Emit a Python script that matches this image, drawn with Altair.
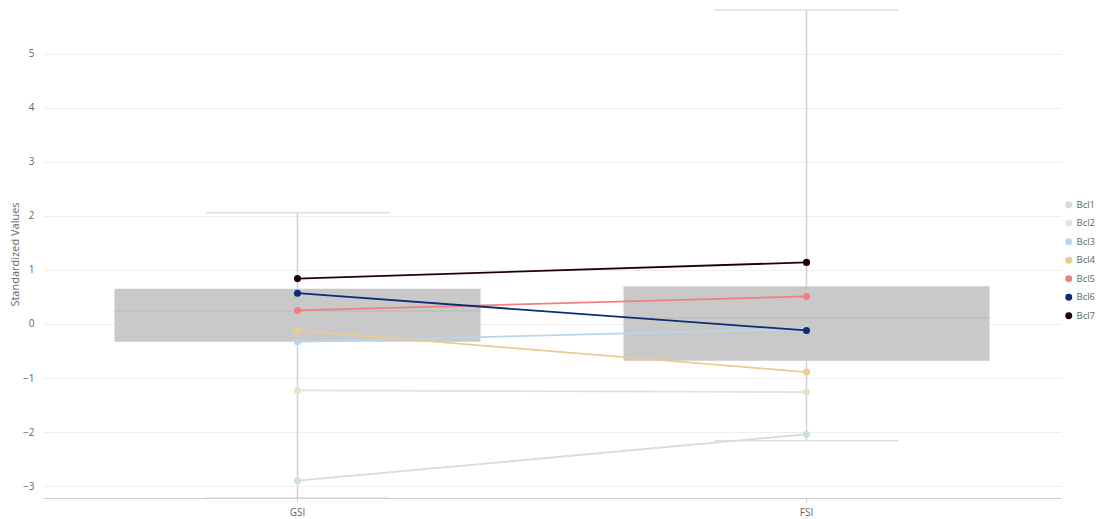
import altair as alt
import pandas as pd

categories = ["GSI", "FSI"]
series = ["Bcl1", "Bcl2", "Bcl3", "Bcl4", "Bcl5", "Bcl6", "Bcl7"]
colors = ["#cfe2cf", "#e6e2cf", "#bcd5eb", "#ecca92", "#f08080", "#0a2d74", "#200008"]
gsi_vals = [-2.90, -1.23, -0.33, -0.12, 0.25, 0.57, 0.84]
fsi_vals = [-2.04, -1.26, -0.09, -0.89, 0.51, -0.12, 1.14]

box_lower = [-3.22, -2.16]
box_q1 = [-0.33, -0.68]
box_median = [0.24, 0.11]
box_q3 = [0.65, 0.70]
box_upper = [2.06, 5.81]

y_domain = [-3.22, 5.81]

rows = []
for s, g, f in zip(series, gsi_vals, fsi_vals):
    rows.append({"cat": "GSI", "series": s, "value": g})
    rows.append({"cat": "FSI", "series": s, "value": f})
pts = pd.DataFrame(rows)

box = pd.DataFrame({
    "cat": categories,
    "lower": box_lower,
    "q1": box_q1,
    "median": box_median,
    "q3": box_q3,
    "upper": box_upper,
})

FONT = "Open Sans"
xscale = alt.Scale(domain=categories, paddingInner=0, paddingOuter=0)
yscale = alt.Scale(domain=y_domain, nice=False, zero=False)

xenc = alt.X("cat:N", scale=xscale, sort=categories, title=None,
             axis=alt.Axis(labelAngle=0, labelFontSize=10, labelColor="#666",
                           labelFont=FONT, domainColor="#cccccc", tickColor="#cccccc",
                           tickSize=4, grid=False, labelPadding=5))

base_box = alt.Chart(box)

whisker = base_box.mark_rule(color="#d2d2d2", strokeWidth=1.5).encode(
    x=xenc,
    y=alt.Y("lower:Q", scale=yscale),
    y2="upper:Q",
)

bar = base_box.mark_bar(color="#c6c6c6", size=366, opacity=0.95).encode(
    x=xenc,
    y=alt.Y("q1:Q", scale=yscale,
            axis=alt.Axis(values=list(range(-3, 6)), format="d", labelFontSize=10,
                          labelColor="#666", labelFont=FONT, domain=False, ticks=False,
                          gridColor="#eeeeee", labelPadding=9, titleFont=FONT,
                          titleFontSize=11, titleColor="#666", titleFontWeight="normal",
                          titlePadding=2),
            title="Standardized Values"),
    y2="q3:Q",
)

med = base_box.mark_tick(color="#b4b4b4", size=366, thickness=1).encode(
    x=xenc, y=alt.Y("median:Q", scale=yscale)
)
cap_hi = base_box.mark_tick(color="#d2d2d2", size=184, thickness=1.5).encode(
    x=xenc, y=alt.Y("upper:Q", scale=yscale)
)
cap_lo = base_box.mark_tick(color="#d2d2d2", size=184, thickness=1.5).encode(
    x=xenc, y=alt.Y("lower:Q", scale=yscale)
)

cscale = alt.Scale(domain=series, range=colors)
legend = alt.Legend(title=None, orient="none", legendX=1021, legendY=190,
                    symbolType="circle", symbolSize=30,
                    labelFontSize=9.5, labelColor="#666", labelFont=FONT,
                    rowPadding=6.5, labelOffset=3)

lines = alt.Chart(pts).mark_line(strokeWidth=1.8).encode(
    x=xenc,
    y=alt.Y("value:Q", scale=yscale),
    color=alt.Color("series:N", scale=cscale, legend=legend),
    detail="series:N",
)
points = alt.Chart(pts).mark_circle(size=50, opacity=1).encode(
    x=xenc,
    y=alt.Y("value:Q", scale=yscale),
    color=alt.Color("series:N", scale=cscale, legend=legend),
)

chart = alt.layer(whisker, bar, med, cap_hi, cap_lo, lines, points).properties(
    width=1018, height=488,
    autosize=alt.AutoSizeParams(type="none"),
    padding={"left": 35, "top": 2, "right": 37, "bottom": 20},
).configure_view(stroke=None)

chart.save("out.html", embed_options={"renderer": "svg", "actions": False})
